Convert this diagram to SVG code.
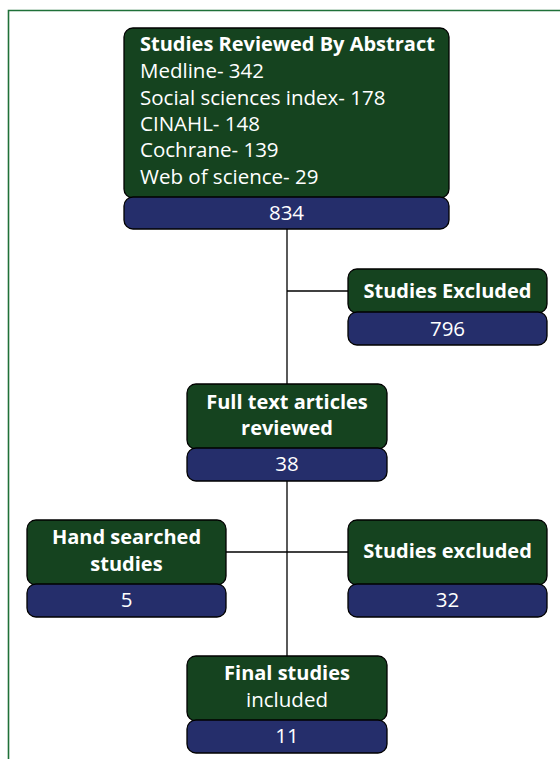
<svg xmlns="http://www.w3.org/2000/svg" width="560" height="759" viewBox="0 0 560 759">
<style>
.g{fill:#15431f;stroke:#000;stroke-width:1.3}
.b{fill:#252e6b;stroke:#000;stroke-width:1.3}
.t{font-family:"Open Sans","Noto Sans",sans-serif;font-size:20.5px;fill:#fff}
.tb{font-weight:bold;font-size:20px}
.c{text-anchor:middle}
.ln{stroke:#000;stroke-width:1.3;fill:none}
</style>
<rect width="560" height="759" fill="#fff"/>
<path d="M8.5,770 V10.5 H570" fill="none" stroke="#1f7038" stroke-width="1.6"/>
<g id="connectors">
<line class="ln" x1="287" y1="229" x2="287" y2="656"/>
<line class="ln" x1="287" y1="291" x2="348" y2="291"/>
<line class="ln" x1="226" y1="552" x2="348" y2="552"/>
</g>
<g id="abstract">
<rect class="g" x="124" y="28" width="325" height="170" rx="9"/>
<rect class="b" x="124" y="197" width="325" height="32" rx="9"/>
<text class="t tb" x="140" y="51">Studies Reviewed By Abstract</text>
<text class="t" x="140" y="78">Medline- 342</text>
<text class="t" x="140" y="105">Social sciences index- 178</text>
<text class="t" x="140" y="131">CINAHL- 148</text>
<text class="t" x="140" y="157">Cochrane- 139</text>
<text class="t" x="140" y="184">Web of science- 29</text>
<text class="t c" x="286.5" y="220">834</text>
</g>
<g id="excluded1">
<rect class="g" x="348" y="269" width="199" height="44" rx="9"/>
<rect class="b" x="348" y="312" width="199" height="33" rx="9"/>
<text class="t tb c" x="447.5" y="298">Studies Excluded</text>
<text class="t c" x="447.5" y="336">796</text>
</g>
<g id="fulltext">
<rect class="g" x="187" y="384" width="200" height="65" rx="9"/>
<rect class="b" x="187" y="448" width="200" height="33" rx="9"/>
<text class="t tb c" x="287" y="409">Full text articles</text>
<text class="t tb c" x="287" y="435">reviewed</text>
<text class="t c" x="287" y="471">38</text>
</g>
<g id="handsearched">
<rect class="g" x="27" y="520" width="199" height="65" rx="9"/>
<rect class="b" x="27" y="584" width="199" height="33" rx="9"/>
<text class="t tb c" x="126.5" y="544">Hand searched</text>
<text class="t tb c" x="126.5" y="571">studies</text>
<text class="t c" x="126.5" y="607">5</text>
</g>
<g id="excluded2">
<rect class="g" x="348" y="520" width="199" height="65" rx="9"/>
<rect class="b" x="348" y="584" width="199" height="33" rx="9"/>
<text class="t tb c" x="447.5" y="558">Studies excluded</text>
<text class="t c" x="447.5" y="607">32</text>
</g>
<g id="final">
<rect class="g" x="187" y="656" width="200" height="65" rx="9"/>
<rect class="b" x="187" y="720" width="200" height="33" rx="9"/>
<text class="t tb c" x="287" y="680">Final studies</text>
<text class="t c" x="287" y="707">included</text>
<text class="t c" x="287" y="743">11</text>
</g>
</svg>
